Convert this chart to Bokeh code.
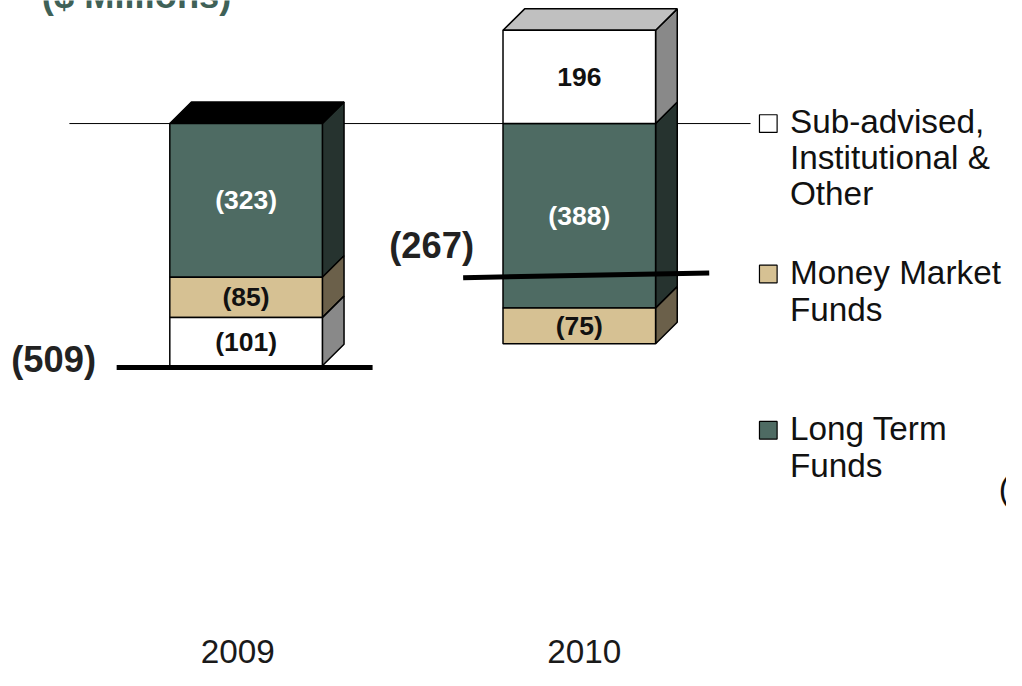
from bokeh.plotting import figure
from bokeh.models import Range1d, ColumnDataSource
from bokeh.core.properties import value
from bokeh.embed import file_html
from bokeh.resources import INLINE

# ---------------- data ----------------
years = ["2009", "2010"]
series_names = ["Long Term Funds", "Money Market Funds", "Sub-advised, Institutional & Other"]
long_term = [-323, -388]
money_market = [-85, -75]
sub_advised = [-101, 196]
net_flows = [-509, -267]
# level of the hand-drawn net markers, left / right end
net_marker_left = [-513, -324]
net_marker_right = [-513, -314]
legend_lines = [["Sub-advised,", "Institutional &", "Other"],
                ["Money Market", "Funds"],
                ["Long Term", "Funds"]]

# ---------------- styling ----------------
REF_W, REF_H = 1022, 686     # reference picture size (layout is measured in it)
W, H = 1006, 670             # figure size that fits the window with its 8px margin
S = (W / REF_W + H / REF_H) / 2
K = 0.487          # reference px per $M
ZERO_PX = 126      # reference pixel row of zero
UNIT = 338.5       # reference px between category centres
X0_PX = 249.5      # reference pixel column of first category centre
FONT = "Liberation Sans"


def fs(px):
    return f"{px * S:.1f}px"


front_col = {"Long Term Funds": "#4e6b63", "Money Market Funds": "#d6c193",
             "Sub-advised, Institutional & Other": "#ffffff"}
side_col = {"Long Term Funds": "#26332f", "Money Market Funds": "#6b604a",
            "Sub-advised, Institutional & Other": "#898989"}
top_col = {"Long Term Funds": "#000000", "Money Market Funds": "#6b604a",
           "Sub-advised, Institutional & Other": "#c0c0c0"}
label_col = {"Long Term Funds": "#ffffff", "Money Market Funds": "#111111",
             "Sub-advised, Institutional & Other": "#111111"}


def xd(px):
    return (px - X0_PX) / UNIT


def yd(px):
    return (ZERO_PX - px) / K


HALF = 77.5 / UNIT
DX = 22 / UNIT
DY = 22 / K

p = figure(width=W, height=H, x_range=Range1d(xd(0), xd(REF_W)), y_range=Range1d(yd(REF_H), yd(0)),
           output_backend="svg", toolbar_location=None, min_border=0,
           x_axis_location=None, y_axis_location=None)
p.grid.visible = False
p.outline_line_color = None
p.background_fill_color = "white"
p.border_fill_color = "white"

# zero line (behind bars)
p.segment(x0=[xd(70)], y0=[0], x1=[xd(762)], y1=[0], line_color="black", line_width=1)

values = {"Long Term Funds": long_term, "Money Market Funds": money_market,
          "Sub-advised, Institutional & Other": sub_advised}

q = dict(left=[], right=[], bottom=[], top=[], color=[])
side = dict(xs=[], ys=[], color=[])
topf = dict(xs=[], ys=[], color=[])
lab = dict(x=[], y=[], text=[], color=[])

for i, yr in enumerate(years):
    pos, neg = 0.0, 0.0
    best_top, best_name = None, None
    for name in series_names:
        v = values[name][i]
        if v >= 0:
            b, t = pos, pos + v
            pos = t
        else:
            t, b = neg, neg + v
            neg = b
        l, r = i - HALF, i + HALF
        q["left"].append(l); q["right"].append(r); q["bottom"].append(b); q["top"].append(t)
        q["color"].append(front_col[name])
        side["xs"].append([r, r + DX, r + DX, r])
        side["ys"].append([t, t + DY, b + DY, b])
        side["color"].append(side_col[name])
        if best_top is None or t > best_top:
            best_top, best_name = t, name
        lab["x"].append(i)
        lab["y"].append((t + b) / 2)
        lab["text"].append(f"({abs(v)})" if v < 0 else f"{v}")
        lab["color"].append(label_col[name])
    l, r = i - HALF, i + HALF
    topf["xs"].append([l, l + DX, r + DX, r])
    topf["ys"].append([best_top, best_top + DY, best_top + DY, best_top])
    topf["color"].append(top_col[best_name])

p.patches("xs", "ys", source=ColumnDataSource(side), fill_color="color",
          line_color="black", line_width=1.5)
p.patches("xs", "ys", source=ColumnDataSource(topf), fill_color="color",
          line_color="black", line_width=1.5)
p.quad(left="left", right="right", bottom="bottom", top="top", source=ColumnDataSource(q),
       fill_color="color", line_color="black", line_width=1.5)
p.text(x="x", y="y", text="text", source=ColumnDataSource(lab), text_color="color",
       text_font=value(FONT), text_font_style="bold", text_font_size=fs(27),
       text_align="center", text_baseline="middle")

# net flow markers
nx0 = [i + o for i, o in enumerate([xd(118) - 0, xd(470) - 1])]
nx1 = [i + o for i, o in enumerate([xd(378) - 0, xd(720) - 1])]
p.segment(x0=nx0, y0=net_marker_left, x1=nx1, y1=net_marker_right,
          line_color="black", line_width=5)
p.text(x=[xd(97), 1 + xd(481) - 1], y=[yd(368), yd(251)],
       text=[f"({abs(v)})" for v in net_flows], text_color="#222222",
       text_font=value(FONT), text_font_style="bold", text_font_size=fs(37),
       text_align="right", text_baseline="middle")

# category labels
p.text(x=[0 + xd(241), 1 + xd(593) - 1], y=[yd(667)] * 2, text=years, text_color="#1a1a1a",
       text_font=value(FONT), text_font_size=fs(34), text_align="center",
       text_baseline="middle")

# title (clipped at top)
p.text(x=[xd(42)], y=[yd(-5)], text=["($ Millions)"], text_color="#3f6157",
       text_font=value(FONT), text_font_style="bold", text_font_size=fs(37),
       text_align="left", text_baseline="middle")

# legend
marker_px = [126, 280, 440]
centers_px = [[124, 161, 198], [278, 316], [438, 476]]
leg_fill = [front_col[series_names[2]], front_col[series_names[1]], front_col[series_names[0]]]
p.rect(x=[xd(780)] * 3, y=[yd(v) for v in marker_px], width=18 * S, height=18 * S,
       width_units="screen", height_units="screen", fill_color=leg_fill,
       line_color="black", line_width=1.2)
tx, ty, tt = [], [], []
for lines, cs in zip(legend_lines, centers_px):
    for s, c in zip(lines, cs):
        tx.append(xd(802)); ty.append(yd(c)); tt.append(s)
p.text(x=tx, y=ty, text=tt, text_color="#111111", text_font=value(FONT),
       text_font_size=fs(34), text_align="left", text_baseline="middle")

# clipped fragment at right edge
p.text(x=[xd(1014)], y=[yd(500)], text=["("], text_color="#111111", text_font=value(FONT),
       text_font_size=fs(34), text_align="left", text_baseline="middle")

open("out.html", "w").write(file_html(p, INLINE))
